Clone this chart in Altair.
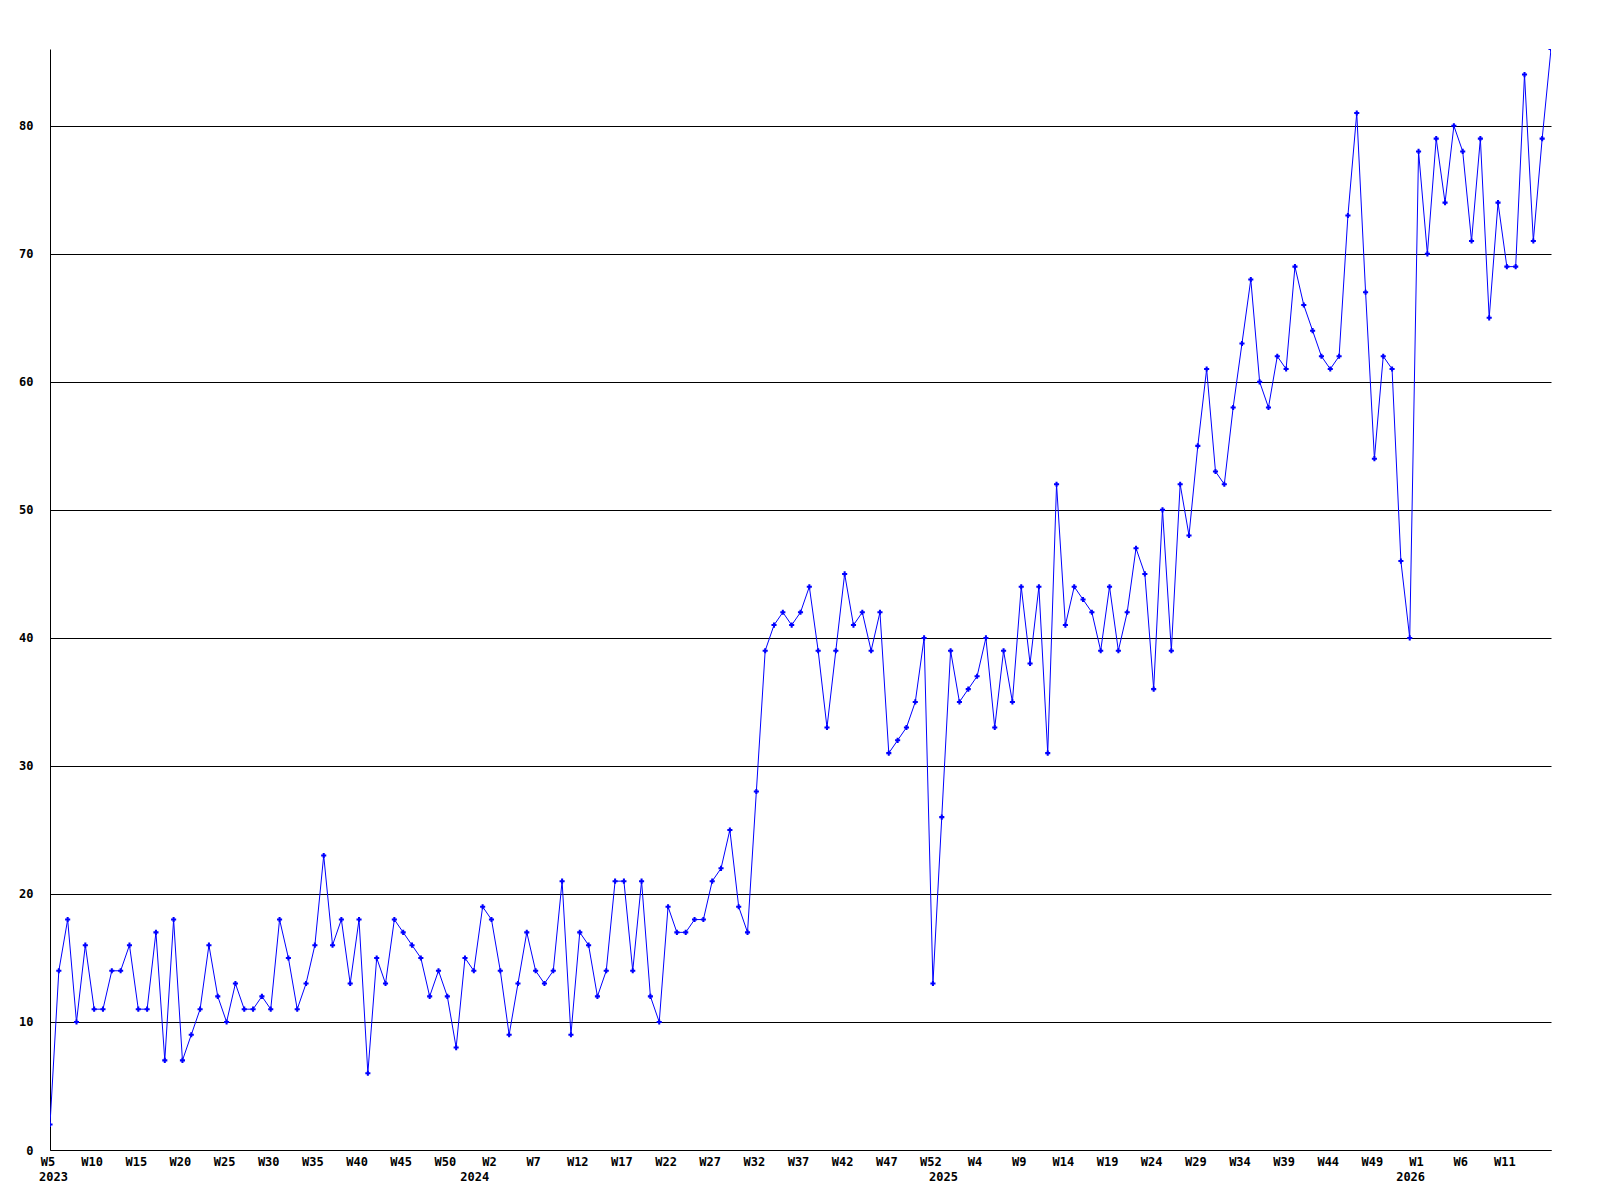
import altair as alt
import pandas as pd

values = [
    2, 14, 18, 10, 16, 11, 11, 14, 14, 16, 11, 11, 17, 7, 18, 7, 9, 11, 16, 12,
    10, 13, 11, 11, 12, 11, 18, 15, 11, 13, 16, 23, 16, 18, 13, 18, 6, 15, 13, 18,
    17, 16, 15, 12, 14, 12, 8, 15, 14, 19, 18, 14, 9, 13, 17, 14, 13, 14, 21, 9,
    17, 16, 12, 14, 21, 21, 14, 21, 12, 10, 19, 17, 17, 18, 18, 21, 22, 25, 19, 17,
    28, 39, 41, 42, 41, 42, 44, 39, 33, 39, 45, 41, 42, 39, 42, 31, 32, 33, 35, 40,
    13, 26, 39, 35, 36, 37, 40, 33, 39, 35, 44, 38, 44, 31, 52, 41, 44, 43, 42, 39,
    44, 39, 42, 47, 45, 36, 50, 39, 52, 48, 55, 61, 53, 52, 58, 63, 68, 60, 58, 62,
    61, 69, 66, 64, 62, 61, 62, 73, 81, 67, 54, 62, 61, 46, 40, 78, 70, 79, 74, 80,
    78, 71, 79, 65, 74, 69, 69, 84, 71, 79, 86,
]

week_labels = [
    "W5", "W10", "W15", "W20", "W25", "W30", "W35", "W40", "W45", "W50",
    "W2", "W7", "W12", "W17", "W22", "W27", "W32", "W37", "W42", "W47", "W52",
    "W4", "W9", "W14", "W19", "W24", "W29", "W34", "W39", "W44", "W49",
    "W1", "W6", "W11",
]
week_label_idx = list(range(0, 5 * len(week_labels), 5))

years = ["2023", "2024", "2025", "2026"]
year_idx = [0.4, 48.1, 101.2, 154.1]

y_ticks = [0, 10, 20, 30, 40, 50, 60, 70, 80]

df = pd.DataFrame({"i": list(range(len(values))), "v": values})
years_df = pd.DataFrame({"i": year_idx, "year": years})
weeks_df = pd.DataFrame({"i": week_label_idx, "week": week_labels})

W = 1501
H = 1101
FONT = "DejaVu Sans Mono"

x_scale = alt.Scale(domain=[0, len(values) - 1], nice=False, zero=False)
y_scale = alt.Scale(domain=[0, 86], nice=False)

x_axis = alt.Axis(
    values=week_label_idx,
    labels=False,
    grid=False,
    ticks=False,
    domain=True,
    domainColor="black",
    domainWidth=1,
    title=None,
)
y_axis = alt.Axis(
    values=y_ticks,
    grid=True,
    gridColor="black",
    gridWidth=1,
    gridOpacity=1,
    ticks=False,
    domain=True,
    domainColor="black",
    domainWidth=1,
    labelFont=FONT,
    labelFontWeight="bold",
    labelFontSize=12,
    labelColor="black",
    labelPadding=17,
    title=None,
)

base = alt.Chart(df)

line = base.mark_line(color="#0000ff", strokeWidth=1, clip=True).encode(
    x=alt.X("i:Q", scale=x_scale, axis=x_axis),
    y=alt.Y("v:Q", scale=y_scale, axis=y_axis),
)
pts = base.mark_point(shape="cross", filled=True, size=26, color="#0000ff", opacity=1, clip=True).encode(
    x=alt.X("i:Q", scale=x_scale),
    y=alt.Y("v:Q", scale=y_scale),
)
week_text = alt.Chart(weeks_df).mark_text(
    font=FONT, fontWeight="bold", fontSize=12, color="black", align="center", baseline="middle", dx=-2
).encode(
    x=alt.X("i:Q", scale=x_scale),
    y=alt.value(H + 12),
    text="week:N",
)
year_text = alt.Chart(years_df).mark_text(
    font=FONT, fontWeight="bold", fontSize=12, color="black", align="center", baseline="middle"
).encode(
    x=alt.X("i:Q", scale=x_scale),
    y=alt.value(H + 27),
    text="year:N",
)

chart = (
    alt.layer(line, pts, week_text, year_text)
    .properties(
        width=W,
        height=H,
        autosize=alt.AutoSizeParams(type="none"),
        padding={"left": 42, "top": 41, "right": 40, "bottom": 40},
        background="white",
    )
    .configure_view(stroke=None)
)

chart.save("out.html", embed_options={"renderer": "svg", "actions": False})
